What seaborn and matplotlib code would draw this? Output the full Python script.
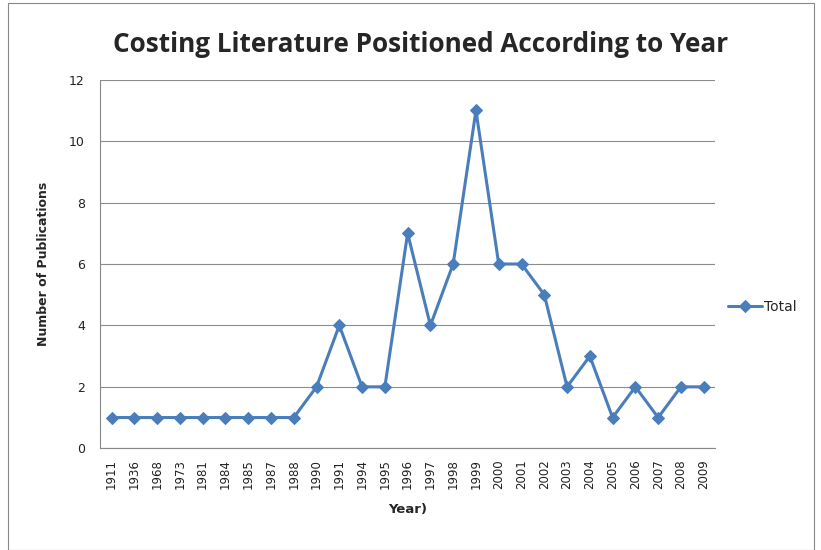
import matplotlib
matplotlib.use("Agg")
import matplotlib.pyplot as plt
import seaborn as sns
import pandas as pd
import numpy as np
from matplotlib.patches import Rectangle

# Data
years = ["1911", "1936", "1968", "1973", "1981", "1984", "1985", "1987", "1988",
         "1990", "1991", "1994", "1995", "1996", "1997", "1998", "1999", "2000",
         "2001", "2002", "2003", "2004", "2005", "2006", "2007", "2008", "2009"]
totals = [1, 1, 1, 1, 1, 1, 1, 1, 1,
          2, 4, 2, 2, 7, 4, 6, 11, 6,
          6, 5, 2, 3, 1, 2, 1, 2, 2]
y_ticks = [0, 2, 4, 6, 8, 10, 12]

df = pd.DataFrame({"Year": years, "Total": totals})

sns.set_style("white")
plt.rcParams['font.family'] = ['DejaVu Sans']

fig = plt.figure(figsize=(8.21, 5.5), dpi=100)
ax = fig.add_axes([0.122, 0.185, 0.749, 0.670])

line_color = "#4a7ebb"
sns.lineplot(data=df, x="Year", y="Total", ax=ax, color=line_color,
             marker="D", markersize=6, linewidth=2.2, markeredgecolor=line_color,
             label="Total", sort=False)

ax.set_ylim(0, 12)
ax.set_yticks(y_ticks)
ax.set_xlim(-0.5, len(years) - 0.5)
ax.set_xticks(range(len(years)))
ax.set_xticklabels(years, rotation=90, fontsize=8.5, color="#222222")
ax.set_xticks(np.arange(-0.5, len(years), 1), minor=True)
ax.tick_params(axis="x", which="major", length=0, pad=8)
ax.tick_params(axis="x", which="minor", length=5, color="#888888", direction="out")
ax.tick_params(axis="y", length=5, color="#888888", direction="out",
               labelsize=9, labelcolor="#222222", pad=6)

ax.yaxis.grid(True, color="#8c8c8c", linewidth=0.8)
ax.set_axisbelow(True)
for s in ["top", "right"]:
    ax.spines[s].set_visible(False)
for s in ["left", "bottom"]:
    ax.spines[s].set_color("#888888")
    ax.spines[s].set_linewidth(0.8)

ax.set_xlabel("Year)", fontsize=9.5, fontweight="bold", labelpad=10)
ax.set_ylabel("Number of Publications", fontsize=9, fontweight="bold", labelpad=14)

fig.text(0.512, 0.92, "Costing Literature Positioned According to Year",
         ha="center", va="center", fontsize=18.8, fontweight="bold", family="Open Sans")

ax.legend(loc="center left", bbox_to_anchor=(1.0, 0.383), frameon=False,
          fontsize=10, handlelength=2.5, handletextpad=0.1)

# outer chart border
fig.patches.append(Rectangle((0.01, 0.0), 0.982, 0.995, transform=fig.transFigure,
                             fill=False, edgecolor="#888888", linewidth=0.8))

fig.savefig("out.png", dpi=100)
